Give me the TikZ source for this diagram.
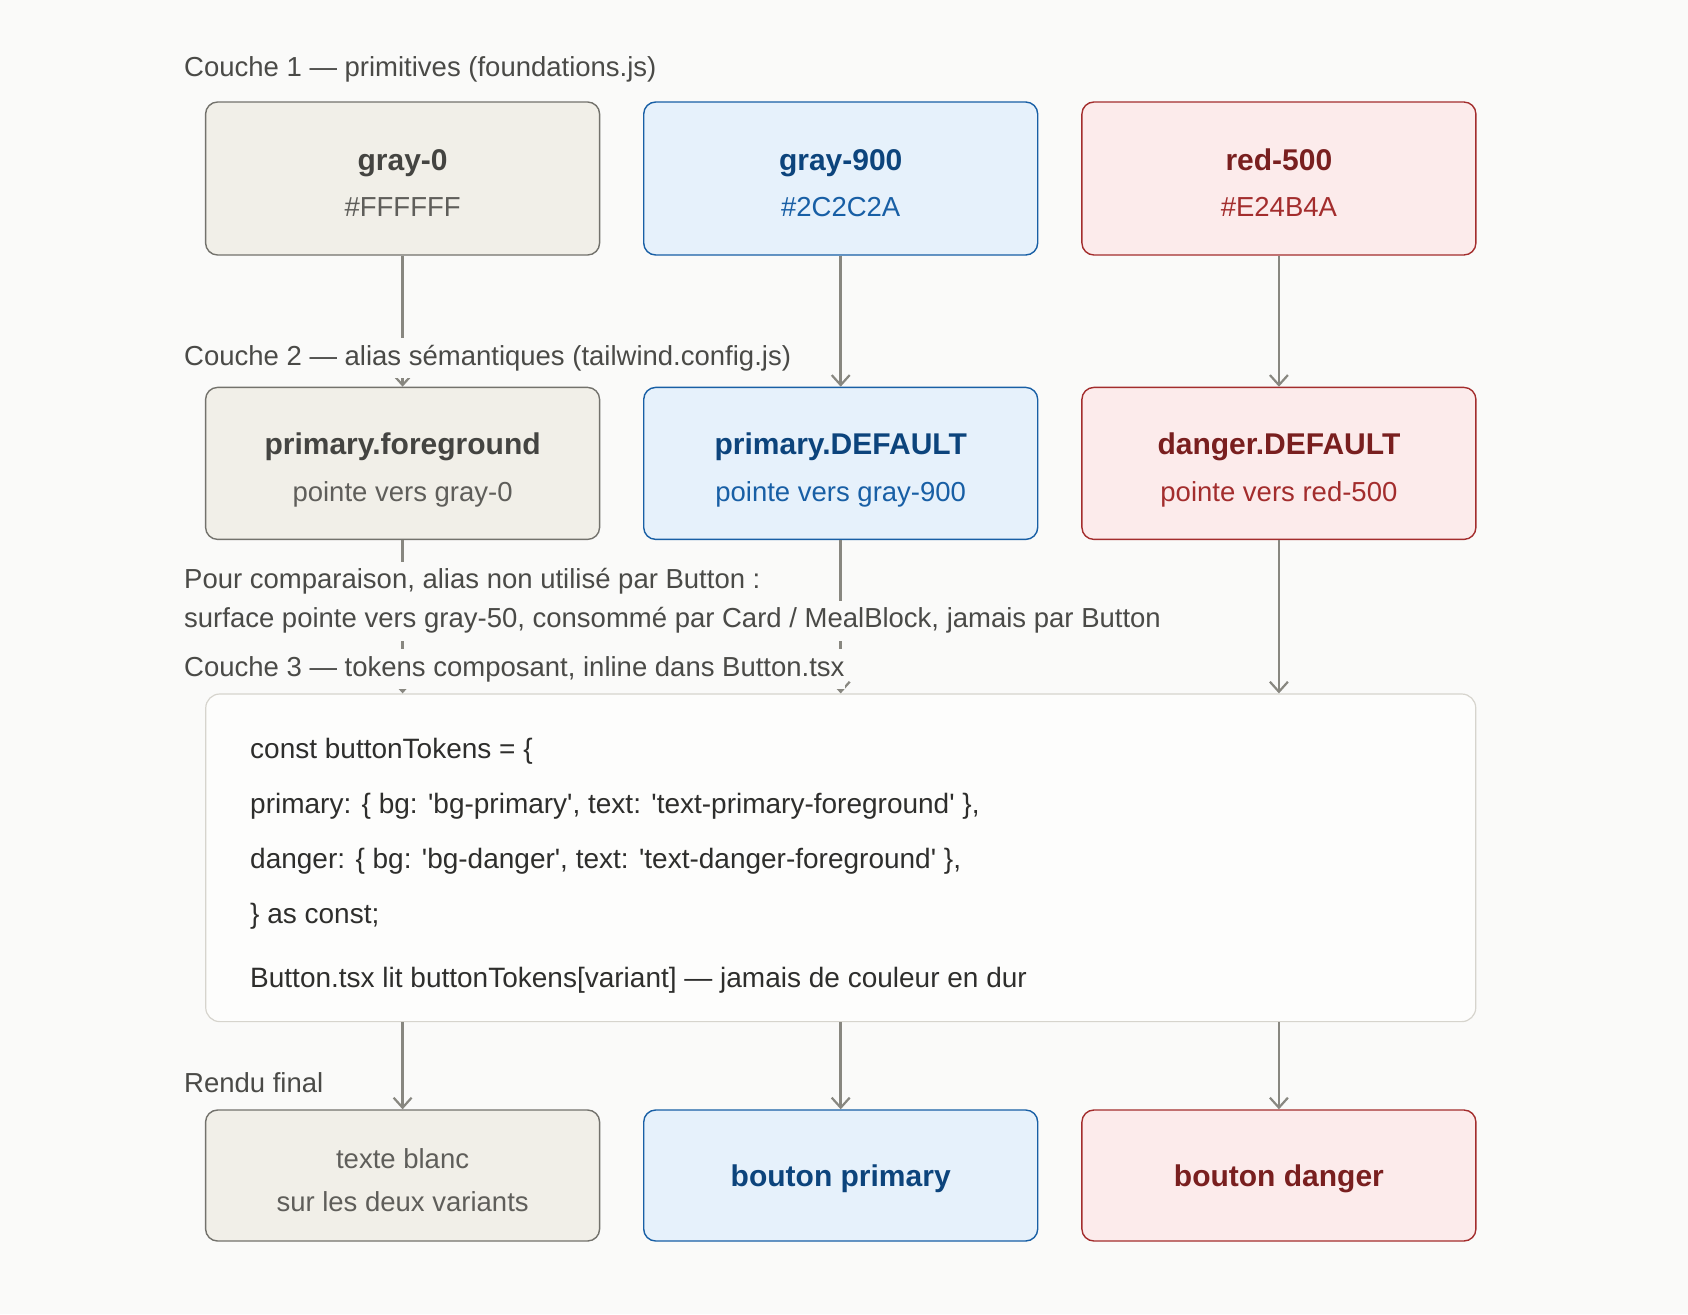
\documentclass[tikz,border=0pt]{standalone}
\usepackage{fontspec}
\setmainfont{Liberation Sans}
\usetikzlibrary{arrows.meta}
\definecolor{bg}{HTML}{FAFAF9}
\definecolor{gfill}{HTML}{F1EFE8}
\definecolor{gdraw}{HTML}{73726C}
\definecolor{gtitle}{HTML}{444441}
\definecolor{gsub}{HTML}{5F5E5A}
\definecolor{bfill}{HTML}{E6F1FB}
\definecolor{bdraw}{HTML}{185FA5}
\definecolor{btitle}{HTML}{0C447C}
\definecolor{bsub}{HTML}{185FA5}
\definecolor{rfill}{HTML}{FCEBEB}
\definecolor{rdraw}{HTML}{A32D2D}
\definecolor{rtitle}{HTML}{791F1F}
\definecolor{rsub}{HTML}{A32D2D}
\definecolor{arrc}{HTML}{888780}
\definecolor{lbl}{HTML}{4A4A47}
\definecolor{codec}{HTML}{2E2E2C}
\definecolor{l3fill}{HTML}{FDFDFC}
\definecolor{l3draw}{HTML}{D6D4CD}
\tikzset{
  box/.style={rounded corners=12pt, line width=1.4pt, minimum width=394pt, inner sep=0pt},
  gbox/.style={box, fill=gfill, draw=gdraw},
  bbox/.style={box, fill=bfill, draw=bdraw},
  rbox/.style={box, fill=rfill, draw=rdraw},
  ttl/.style={anchor=base, inner sep=0pt, font=\bfseries\fontsize{30}{36}\selectfont},
  sub/.style={anchor=base, inner sep=0pt, font=\fontsize{27.5}{33}\selectfont},
  arr/.style={draw=arrc, line width=2.5pt, -{Straight Barb[length=10pt,width=18pt,line width=2.2pt]}},
  lab/.style={anchor=west, fill=bg, inner xsep=0pt, inner ysep=7pt, text height=20pt, text depth=6pt,
    text=lbl, font=\fontsize{27.5}{33}\selectfont},
  code/.style={anchor=west, inner sep=0pt, text=codec, font=\fontsize{28}{33}\selectfont}
}
\newcommand{\sq}{\textquotesingle}
\begin{document}
\begin{tikzpicture}[x=1pt,y=-1pt]
\fill[bg] (0,0) rectangle (1688,1314);
\useasboundingbox (0,0) rectangle (1688,1314);
% row 1
\node[gbox, minimum height=153pt] (g0) at (402.6,178.5) {};
\node[bbox, minimum height=153pt] (g9) at (840.7,178.5) {};
\node[rbox, minimum height=153pt] (r5) at (1278.9,178.5) {};
\node[ttl, text=gtitle] (g0a) at ([yshift=8.5pt]g0.center) {gray-0};
\node[sub, text=gsub] (g0b) at ([yshift=-38.1pt]g0.center) {\#FFFFFF};
\node[ttl, text=btitle] (g9a) at ([yshift=8.5pt]g9.center) {gray-900};
\node[sub, text=bsub] (g9b) at ([yshift=-38.1pt]g9.center) {\#2C2C2A};
\node[ttl, text=rtitle] (r5a) at ([yshift=8.5pt]r5.center) {red-500};
\node[sub, text=rsub] (r5b) at ([yshift=-38.1pt]r5.center) {\#E24B4A};
% row 2
\node[gbox, minimum height=152pt] (pf) at (402.6,463.4) {};
\node[bbox, minimum height=152pt] (pd) at (840.7,463.4) {};
\node[rbox, minimum height=152pt] (dd) at (1278.9,463.4) {};
\node[ttl, text=gtitle] (pfa) at ([yshift=8.8pt]pf.center) {primary.foreground};
\node[sub, text=gsub] (pfb) at ([yshift=-38.3pt]pf.center) {pointe vers gray-0};
\node[ttl, text=btitle] (pda) at ([yshift=8.8pt]pd.center) {primary.DEFAULT};
\node[sub, text=bsub] (pdb) at ([yshift=-38.3pt]pd.center) {pointe vers gray-900};
\node[ttl, text=rtitle] (dda) at ([yshift=8.8pt]dd.center) {danger.DEFAULT};
\node[sub, text=rsub] (ddb) at ([yshift=-38.3pt]dd.center) {pointe vers red-500};
% layer 3
\node[rounded corners=14pt, line width=1.2pt, fill=l3fill, draw=l3draw, minimum width=1270pt, minimum height=327.6pt, inner sep=0pt] (L3) at (840.75,857.8) {};
\node[code] (c1) at (250,751.2) {const buttonTokens = \{};
\node[code] (c2) at (250,806.2) {primary: \{ bg: \sq bg-primary\sq, text: \sq text-primary-foreground\sq\ \},};
\node[code] (c3) at (250,861.2) {danger: \{ bg: \sq bg-danger\sq, text: \sq text-danger-foreground\sq\ \},};
\node[code] (c4) at (250,916.2) {\} as const;};
\node[code] (c5) at (250,980.7) {Button.tsx lit buttonTokens[variant] — jamais de couleur en dur};
% row 4
\node[gbox, minimum height=131pt] (f1) at (402.6,1175.5) {};
\node[bbox, minimum height=131pt] (f2) at (840.7,1175.5) {};
\node[rbox, minimum height=131pt] (f3) at (1278.9,1175.5) {};
\node[sub, text=gsub] (f1a) at ([yshift=7.2pt]f1.center) {texte blanc};
\node[sub, text=gsub] (f1b) at ([yshift=-35.8pt]f1.center) {sur les deux variants};
\node[ttl, text=btitle] (f2a) at ([yshift=-10.8pt]f2.center) {bouton primary};
\node[ttl, text=rtitle] (f3a) at ([yshift=-10.8pt]f3.center) {bouton danger};
% arrows
\draw[arr] (g0.south) -- (pf.north);
\draw[arr] (g9.south) -- (pd.north);
\draw[arr] (r5.south) -- (dd.north);
\draw[arr] (pf.south) -- (pf.south |- L3.north);
\draw[arr] (pd.south) -- (pd.south |- L3.north);
\draw[arr] (dd.south) -- (dd.south |- L3.north);
\draw[arr] (L3.south -| f1.north) -- (f1.north);
\draw[arr] (L3.south -| f2.north) -- (f2.north);
\draw[arr] (L3.south -| f3.north) -- (f3.north);
% labels
\node[lab] (t1) at (184,69) {Couche 1 — primitives (foundations.js)};
\node[lab] (t2) at (184,358.3) {Couche 2 — alias sémantiques (tailwind.config.js)};
\node[lab] (t3a) at (184,581.5) {Pour comparaison, alias non utilisé par Button :};
\node[lab] (t3b) at (184,620.5) {surface pointe vers gray-50, consommé par Card / MealBlock, jamais par Button};
\node[lab] (t3) at (184,669) {Couche 3 — tokens composant, inline dans Button.tsx};
\node[lab] (t4) at (184,1085.5) {Rendu final};
\end{tikzpicture}
\end{document}
